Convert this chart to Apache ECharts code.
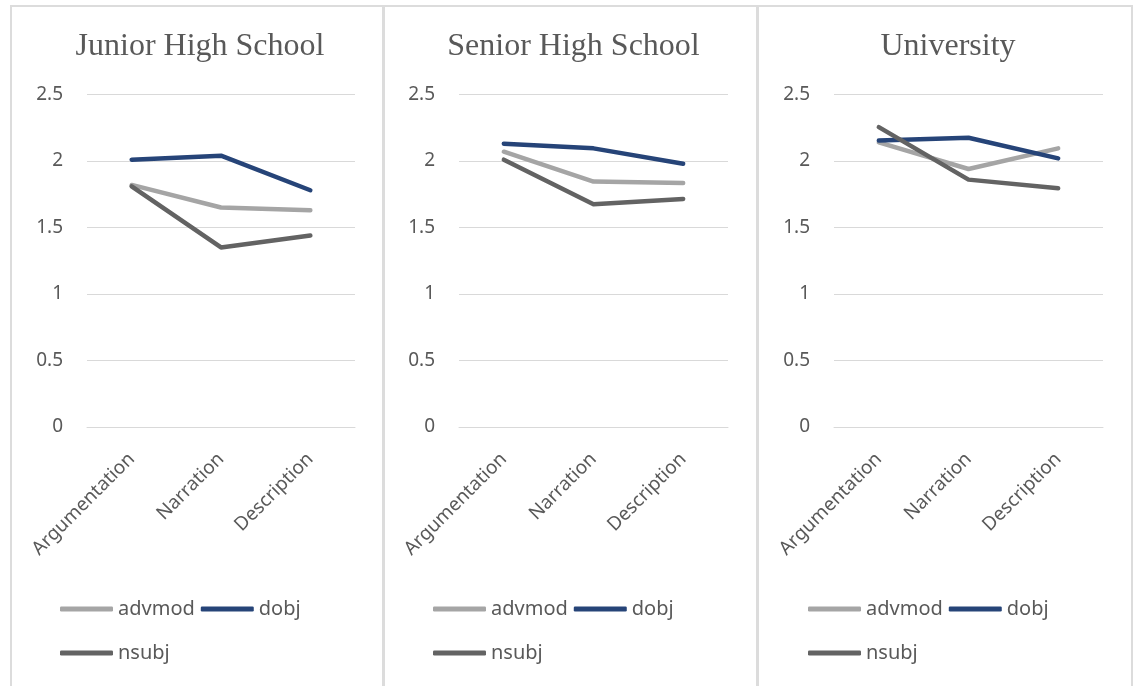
<!DOCTYPE html>
<html>
<head>
<meta charset="utf-8">
<script src="https://cdn.jsdelivr.net/npm/echarts@6/dist/echarts.min.js"></script>
<style>
  html, body { margin: 0; padding: 0; background: #ffffff; }
  #chart { width: 1137px; height: 686px; }
</style>
</head>
<body>
<div id="chart"></div>
<script>
// Categories shared by all three panels
const genres = ['Argumentation', 'Narration', 'Description'];
const panelTitles = ['Junior High School', 'Senior High School', 'University'];
const seriesNames = ['advmod', 'dobj', 'nsubj'];
const yTicks = [0, 0.5, 1, 1.5, 2, 2.5];

// Mean values per genre, one array per school level and relation
const juniorAdvmod = [1.82, 1.65, 1.63];
const juniorDobj   = [2.01, 2.04, 1.78];
const juniorNsubj  = [1.81, 1.35, 1.44];

const seniorAdvmod = [2.07, 1.845, 1.835];
const seniorDobj   = [2.13, 2.095, 1.98];
const seniorNsubj  = [2.01, 1.675, 1.715];

const univAdvmod = [2.14, 1.94, 2.095];
const univDobj   = [2.155, 2.175, 2.02];
const univNsubj  = [2.255, 1.86, 1.795];

const panelData = [
  [juniorAdvmod, juniorDobj, juniorNsubj],
  [seniorAdvmod, seniorDobj, seniorNsubj],
  [univAdvmod, univDobj, univNsubj]
];

const lineColors = ['#a5a5a5', '#264478', '#636363'];
const textColor = '#595959';
const gridColor = '#d9d9d9';
const sansFont = '"Noto Sans", "Open Sans", sans-serif';

// Panel frames and plot areas (pixels)
const panels = [
  { x: 11, w: 372, gridLeft: 87, gridWidth: 268, legendLeft: 55 },
  { x: 384, w: 373, gridLeft: 459, gridWidth: 269, legendLeft: 428 },
  { x: 758, w: 374, gridLeft: 834, gridWidth: 269, legendLeft: 803 }
];

const grid = [], xAxis = [], yAxis = [], series = [], title = [], legend = [], graphic = [];

panels.forEach((p, i) => {
  graphic.push({
    type: 'rect', silent: true, z: -1,
    shape: { x: p.x, y: 6, width: p.w, height: 700 },
    style: { fill: 'none', stroke: '#dcdcdc', lineWidth: 2 }
  });
  title.push({
    text: panelTitles[i],
    left: p.x + p.w / 2 - 2, top: 26, textAlign: 'center',
    textStyle: { fontFamily: '"Liberation Serif", "Times New Roman", serif', fontSize: 32, fontWeight: 'normal', color: textColor }
  });
  grid.push({ left: p.gridLeft, width: p.gridWidth, top: 94.5, height: 332.5, containLabel: false });
  xAxis.push({
    type: 'category', gridIndex: i, data: genres, boundaryGap: true,
    axisLine: { show: true, lineStyle: { color: gridColor, width: 1 } },
    axisTick: { show: false },
    axisLabel: { rotate: 45, margin: 29, verticalAlign: 'middle', interval: 0, fontFamily: sansFont, fontSize: 19, color: textColor }
  });
  yAxis.push({
    type: 'value', gridIndex: i, min: yTicks[0], max: yTicks[yTicks.length - 1], interval: 0.5,
    axisLine: { show: false }, axisTick: { show: false },
    splitLine: { lineStyle: { color: gridColor, width: 1 } },
    axisLabel: { margin: 24, fontFamily: sansFont, fontSize: 19, color: textColor }
  });
  seriesNames.forEach((name, s) => {
    series.push({
      name: name, type: 'line', xAxisIndex: i, yAxisIndex: i,
      data: panelData[i][s], symbol: 'none', silent: true,
      lineStyle: { color: lineColors[s], width: 4.5, cap: 'round', join: 'round' },
      itemStyle: { color: lineColors[s] }
    });
  });
  const legendCommon = {
    orient: 'horizontal', icon: 'roundRect', itemWidth: 53, itemHeight: 5, itemGap: 6,
    selectedMode: false,
    textStyle: { fontFamily: sansFont, fontSize: 20, color: textColor, padding: [0, 0, 0, 0] }
  };
  legend.push(Object.assign({}, legendCommon, { left: p.legendLeft, top: 594, data: ['advmod', 'dobj'] }));
  legend.push(Object.assign({}, legendCommon, { left: p.legendLeft, top: 638, data: ['nsubj'] }));
});

const chart = echarts.init(document.getElementById('chart'), null, { renderer: 'canvas' });
chart.setOption({
  animation: false,
  backgroundColor: '#ffffff',
  title, grid, xAxis, yAxis, series, legend, graphic
});
</script>
</body>
</html>
